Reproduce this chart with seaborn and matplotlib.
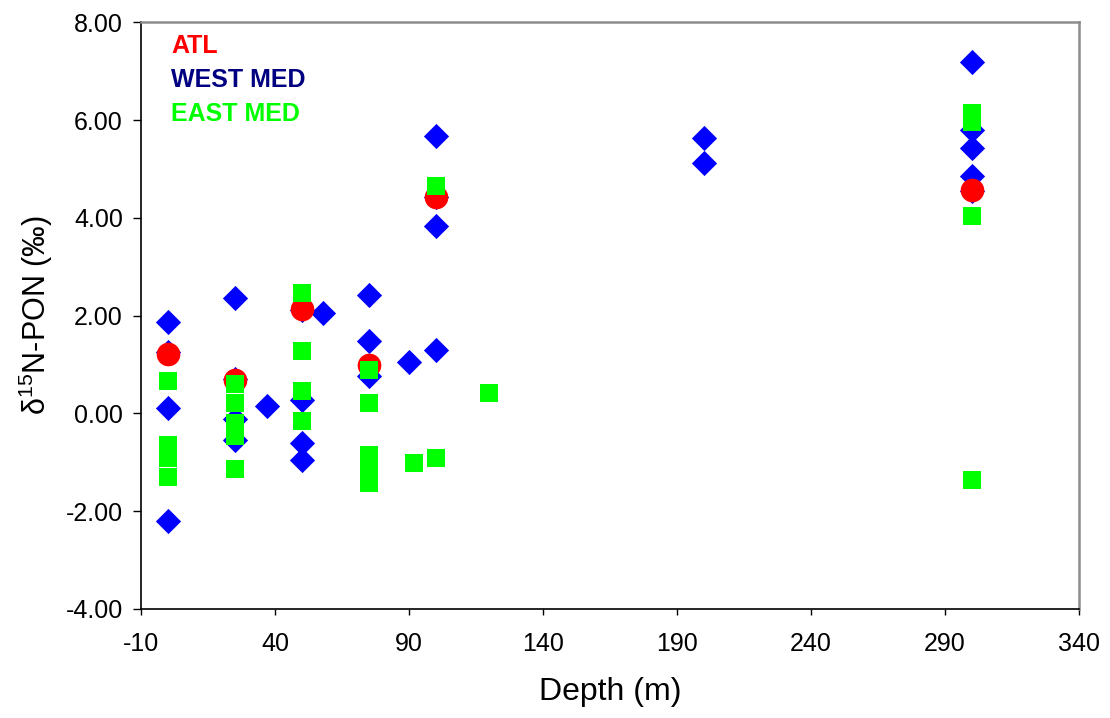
import matplotlib
matplotlib.use("Agg")
import matplotlib.pyplot as plt
import seaborn as sns
import pandas as pd
from matplotlib.ticker import FormatStrFormatter, MultipleLocator

# ---- data ----
atl_depth = [0, 25, 50, 75, 100, 300]
atl_d15n = [1.22, 0.69, 2.14, 0.99, 4.42, 4.56]

west_depth = [0, 0, 0, 0, 25, 25, 25, 25, 37, 50, 50, 50, 50, 58,
              75, 75, 75, 90, 100, 100, 100, 100, 200, 200,
              300, 300, 300, 300, 300]
west_d15n = [1.87, 1.26, 0.10, -2.20, 2.36, 0.70, -0.11, -0.55, 0.16,
             2.12, 0.28, -0.61, -0.95, 2.06,
             2.42, 1.47, 0.77, 1.05, 5.67, 4.43, 3.84, 1.29, 5.64, 5.13,
             7.18, 5.80, 5.43, 4.85, 4.54]

east_depth = [0, 0, 0, 0, 25, 25, 25, 25, 25, 50, 50, 50, 50,
              75, 75, 75, 75, 75, 92, 100, 100, 120,
              300, 300, 300, 300]
east_d15n = [0.66, -0.65, -0.92, -1.30, 0.60, 0.21, -0.19, -0.46, -1.14,
             2.47, 1.28, 0.46, -0.16,
             0.89, 0.21, -0.85, -1.12, -1.42, -1.02, 4.66, -0.91, 0.42,
             6.15, 5.96, 4.04, -1.36]

groups = ["ATL", "WEST MED", "EAST MED"]
colors = {"ATL": "#FF0000", "WEST MED": "#0000FF", "EAST MED": "#00FF00"}
label_colors = {"ATL": "#FF0000", "WEST MED": "#000080", "EAST MED": "#00FF00"}
x_ticks = [-10, 40, 90, 140, 190, 240, 290, 340]

df = pd.concat([
    pd.DataFrame({"Depth": atl_depth, "d15N": atl_d15n, "Region": "ATL"}),
    pd.DataFrame({"Depth": west_depth, "d15N": west_d15n, "Region": "WEST MED"}),
    pd.DataFrame({"Depth": east_depth, "d15N": east_d15n, "Region": "EAST MED"}),
], ignore_index=True)

sns.set_theme(style="white")
plt.rcParams["font.family"] = ["Liberation Sans", "DejaVu Sans"]
plt.rcParams["axes.unicode_minus"] = False
plt.rcParams["mathtext.fontset"] = "custom"
plt.rcParams["mathtext.rm"] = "Liberation Sans"
plt.rcParams["mathtext.it"] = "Liberation Sans:italic"
plt.rcParams["mathtext.bf"] = "Liberation Sans:bold"
plt.rcParams["text.color"] = "black"
plt.rcParams["axes.labelcolor"] = "black"
plt.rcParams["xtick.color"] = "black"
plt.rcParams["ytick.color"] = "black"

fig = plt.figure(figsize=(11.10, 7.18), dpi=100)
ax = fig.add_axes([0.127, 0.152, 0.845, 0.817])

# draw order: WEST MED, ATL, EAST MED
marker_map = {"ATL": "o", "WEST MED": "D", "EAST MED": "s"}
size_map = {"ATL": 290, "WEST MED": 165, "EAST MED": 150}
for g in ["WEST MED", "ATL", "EAST MED"]:
    sub = df[df["Region"] == g]
    sns.scatterplot(data=sub, x="Depth", y="d15N", ax=ax, color=colors[g],
                    marker=marker_map[g], s=size_map[g], linewidth=0,
                    legend=False, zorder=3)

ax.set_xlim(-10, 340)
ax.set_ylim(-4, 8)
ax.set_xticks(x_ticks)
ax.yaxis.set_major_locator(MultipleLocator(2))
ax.yaxis.set_major_formatter(FormatStrFormatter("%.2f"))
ax.tick_params(axis="both", which="major", direction="out", width=1,
               color="black", labelcolor="black", labelsize=18)
ax.tick_params(axis="x", length=4.5, pad=12)
ax.tick_params(axis="y", length=6, pad=7)

for side in ["left", "bottom"]:
    ax.spines[side].set_color("black")
    ax.spines[side].set_linewidth(1.2)
for side in ["top", "right"]:
    ax.spines[side].set_color("#8c8c8c")
    ax.spines[side].set_linewidth(1.8)
ax.xaxis.set_ticks_position("bottom")
ax.yaxis.set_ticks_position("left")

ax.set_xlabel("Depth (m)", fontsize=23, labelpad=15)
ax.set_ylabel(r"δ$^{\mathregular{15}}$N-PON (‰)", fontsize=22, labelpad=8)

# text legend
ypos = [0.959, 0.902, 0.844]
for g, yp in zip(groups, ypos):
    ax.text(0.032, yp, g, transform=ax.transAxes, color=label_colors[g],
            fontsize=18, fontweight="bold", va="center", ha="left")

fig.savefig("out.png", dpi=100)
